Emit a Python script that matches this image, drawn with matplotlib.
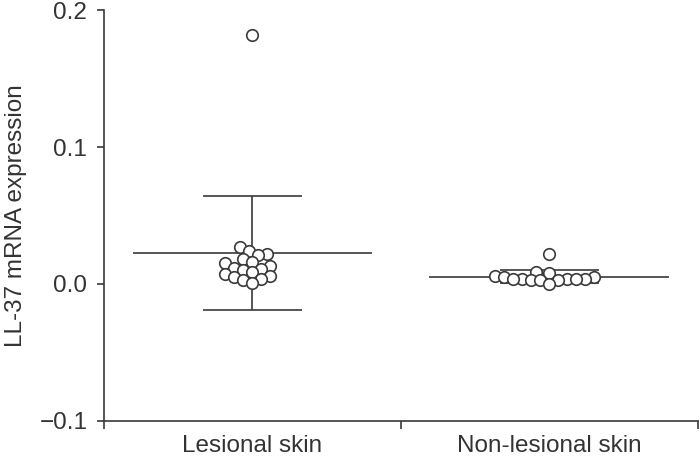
import numpy as np
import matplotlib
matplotlib.use("Agg")
import matplotlib.pyplot as plt

plt.rcParams['font.family'] = ['Liberation Sans', 'DejaVu Sans']

# values
groups = ["Lesional skin", "Non-lesional skin"]
lesional = [0.182, 0.027, 0.024, 0.022, 0.021, 0.018, 0.016, 0.015, 0.013,
            0.012, 0.011, 0.010, 0.009, 0.007, 0.006, 0.005, 0.004, 0.003, 0.001]
nonlesional = [0.0217, 0.009, 0.008, 0.006, 0.005, 0.005, 0.004, 0.004, 0.004,
               0.004, 0.004, 0.003, 0.003, 0.003, 0.0]
means = [0.0226, 0.0053]
sds = [0.0416, 0.0049]
yticks = [-0.1, 0.0, 0.1, 0.2]

dark = "#3a3a3a"
txt = "#333333"
centers = [0.5, 1.5]

fig = plt.figure(figsize=(7, 4.57), dpi=100)
ax = fig.add_axes([0.1486, 0.0788, 0.8484, 0.8993])
ax.set_xlim(0, 2)
ax.set_ylim(-0.1, 0.2)

# mean line and SD bars
for c, m, s in zip(centers, means, sds):
    ax.hlines(m, c - 0.404, c + 0.404, color=dark, lw=1.2, zorder=2)
    ax.vlines(c, m - s, m + s, color=dark, lw=1.2, zorder=2)
    ax.hlines([m - s, m + s], c - 0.168, c + 0.168, color=dark, lw=1.2, zorder=2)


def swarm(values, center, diam):
    # simple beeswarm in pixel space
    pts = ax.transData.transform([(center, v) for v in values])
    ys = pts[:, 1]
    cx = pts[0, 0]
    placed = []
    xs = np.zeros(len(values))
    order = np.argsort(ys)
    for i in order:
        y = ys[i]
        best = None
        for k in range(0, 200):
            for sgn in ([1] if k == 0 else [-1, 1]):
                off = sgn * k * 1.0
                ok = all((off - px) ** 2 + (y - py) ** 2 >= diam ** 2 for px, py in placed)
                if ok:
                    best = off
                    break
            if best is not None:
                break
        placed.append((best, y))
        xs[i] = cx + best
    inv = ax.transData.inverted()
    return inv.transform(np.column_stack([xs, ys]))[:, 0]


fig.canvas.draw()
for c, vals in zip(centers, [lesional, nonlesional]):
    xs = swarm(vals, c, 9.0)
    ax.plot(xs, vals, 'o', ms=8.3, mfc='white', mec=dark, mew=1.2, ls='none', zorder=3)

for side in ['top', 'right']:
    ax.spines[side].set_visible(False)
for side in ['left', 'bottom']:
    ax.spines[side].set_color(dark)
    ax.spines[side].set_linewidth(1.2)

ax.set_yticks(yticks)
ax.set_yticklabels([f"{t:.1f}".replace("-", "\u2212") for t in yticks])
ax.tick_params(axis='y', direction='out', length=5, width=1.2, color=dark,
               labelsize=17.5, labelcolor=txt, pad=7)

ax.set_xticks([0, 1, 2])
ax.set_xticklabels([])
ax.set_xticks(centers, minor=True)
ax.set_xticklabels(groups, minor=True)
ax.tick_params(axis='x', which='major', direction='out', length=6, width=1.2, color=dark)
ax.tick_params(axis='x', which='minor', length=0, labelsize=17.5, labelcolor=txt, pad=10)

ax.set_ylabel("LL-37 mRNA expression", fontsize=17.5, color=txt, labelpad=9)

fig.savefig("out.png", dpi=100)
